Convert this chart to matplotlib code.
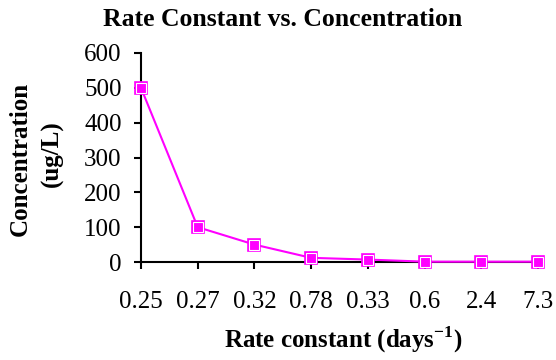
import matplotlib.pyplot as plt

plt.rcParams['font.family'] = ['Liberation Serif', 'DejaVu Serif']
plt.rcParams['mathtext.fontset'] = 'custom'
plt.rcParams['mathtext.rm'] = 'Liberation Serif'
plt.rcParams['mathtext.bf'] = 'Liberation Serif:bold'

# valores
rate_labels = ['0.25', '0.27', '0.32', '0.78', '0.33', '0.6', '2.4', '7.3']
concentration = [500, 100, 50, 12, 7, 1, 1, 1]

fig = plt.figure(figsize=(5.56, 3.6), dpi=100)
ax = fig.add_axes([0.2536, 0.2722, 0.714, 0.5806])

x = list(range(len(rate_labels)))
ax.plot(x, concentration, color='#ff00ff', lw=1.5, clip_on=False, zorder=3)
ax.plot(x, concentration, ls='none', marker='s', ms=8.5, mfc='#ff00ff',
        mec='#ff00ff', mew=1.2, clip_on=False, zorder=4)
ax.plot(x, concentration, ls='none', marker='s', ms=6.5, mfc='none',
        mec='white', mew=0.8, clip_on=False, zorder=5)

ax.set_xlim(0, len(rate_labels) - 1)
ax.set_ylim(0, 600)
ax.set_yticks(range(0, 601, 100))
ax.set_xticks(x)
ax.set_xticklabels(rate_labels)

for side in ['top', 'right']:
    ax.spines[side].set_visible(False)
for side in ['left', 'bottom']:
    ax.spines[side].set_linewidth(1.5)

ax.tick_params(axis='both', labelsize=18, width=1.5, length=5, colors='black')
ax.tick_params(axis='x', pad=16)
ax.tick_params(axis='y', pad=9)

fig.text(283 / 556, 1 - 20 / 360, 'Rate Constant vs. Concentration',
         fontsize=18.5, fontweight='bold', ha='center', va='center')
fig.text(343 / 556, 1 - 340 / 360,
         r'Rate constant (days$^{\mathbf{-1}}$)', fontsize=18,
         fontweight='bold', ha='center', va='center')
fig.text(20 / 556, 1 - 159 / 360, 'Concentration', fontsize=18,
         fontweight='bold', rotation=90, ha='center', va='center')
fig.text(52 / 556, 1 - 154 / 360, '(ug/L)', fontsize=18,
         fontweight='bold', rotation=90, ha='center', va='center')

fig.savefig('out.png', dpi=100)
